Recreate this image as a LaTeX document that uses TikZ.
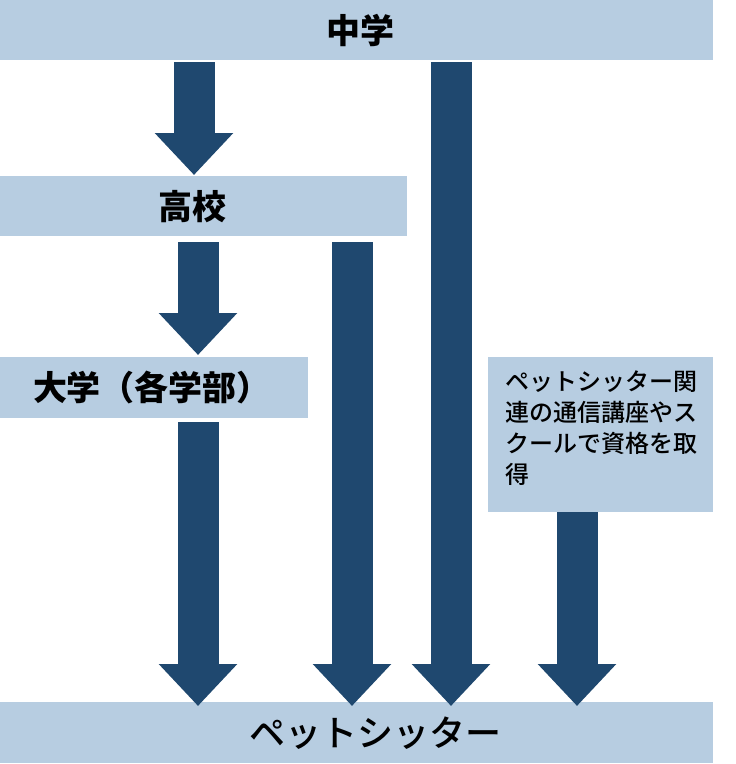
\documentclass[tikz,border=0pt]{standalone}
\usepackage{fontspec}
\setmainfont{Noto Sans CJK JP}
\newfontfamily\jpmed{Noto Sans CJK JP}[UprightFont=* Medium]
\usetikzlibrary{arrows.meta}
\definecolor{boxfill}{RGB}{183,205,225}
\definecolor{arrowfill}{RGB}{31,72,111}
\tikzset{
  stagebox/.style={fill=boxfill, draw=none, rectangle, anchor=north west, inner sep=0pt},
  bigtxt/.style={font=\fontsize{34}{40}\selectfont\bfseries, text=black, inner sep=0pt},
  flowarrow/.style={draw=arrowfill, line width=41pt, -{Triangle[width=76pt,length=42pt,fill=arrowfill]}},
}
\begin{document}
\begin{tikzpicture}[x=1pt,y=-1pt]
\useasboundingbox (0,0) rectangle (736,764);
% boxes
\node[stagebox, minimum width=713pt, minimum height=60pt] (chu) at (0,0) {};
\node[stagebox, minimum width=407pt, minimum height=60pt] (kou) at (0,176) {};
\node[stagebox, minimum width=308pt, minimum height=61pt] (dai) at (0,357) {};
\node[stagebox, minimum width=225pt, minimum height=155pt] (sch) at (488,357) {};
\node[stagebox, minimum width=713pt, minimum height=61pt] (pet) at (0,702) {};
% texts
\node[bigtxt] (tchu) at (360,30) {中学};
\node[bigtxt] (tkou) at (192,207) {高校};
\node[bigtxt] (tdai) at (152,388) {大学（各学部）};
\node[inner sep=0pt, font=\fontsize{36}{40}\selectfont\jpmed] (tpet) at (375,733) {ペットシッター};
\node[anchor=north west, inner sep=0pt, align=left, font=\fontsize{24}{31}\selectfont\jpmed] (tsch) at (505,371)
  {ペットシッター関\\連の通信講座やス\\クールで資格を取\\得};
% columns
\coordinate (c1) at (194,0);
\coordinate (c2) at (198,0);
\coordinate (c3) at (352,0);
\coordinate (c4) at (451,0);
\coordinate (c5) at (577,0);
% arrows
\draw[flowarrow] ([yshift=-2pt]chu.south -| c1) -- ([yshift=1pt]kou.north -| c1);
\draw[flowarrow] ([yshift=-2pt]chu.south -| c4) -- ([yshift=-4pt]pet.north -| c4);
\draw[flowarrow] ([yshift=-6pt]kou.south -| c2) -- ([yshift=2pt]dai.north -| c2);
\draw[flowarrow] ([yshift=-6pt]kou.south -| c3) -- ([yshift=-4pt]pet.north -| c3);
\draw[flowarrow] ([yshift=-4pt]dai.south -| c2) -- ([yshift=-4pt]pet.north -| c2);
\draw[flowarrow] (sch.south -| c5) -- ([yshift=-4pt]pet.north -| c5);
\end{tikzpicture}
\end{document}
